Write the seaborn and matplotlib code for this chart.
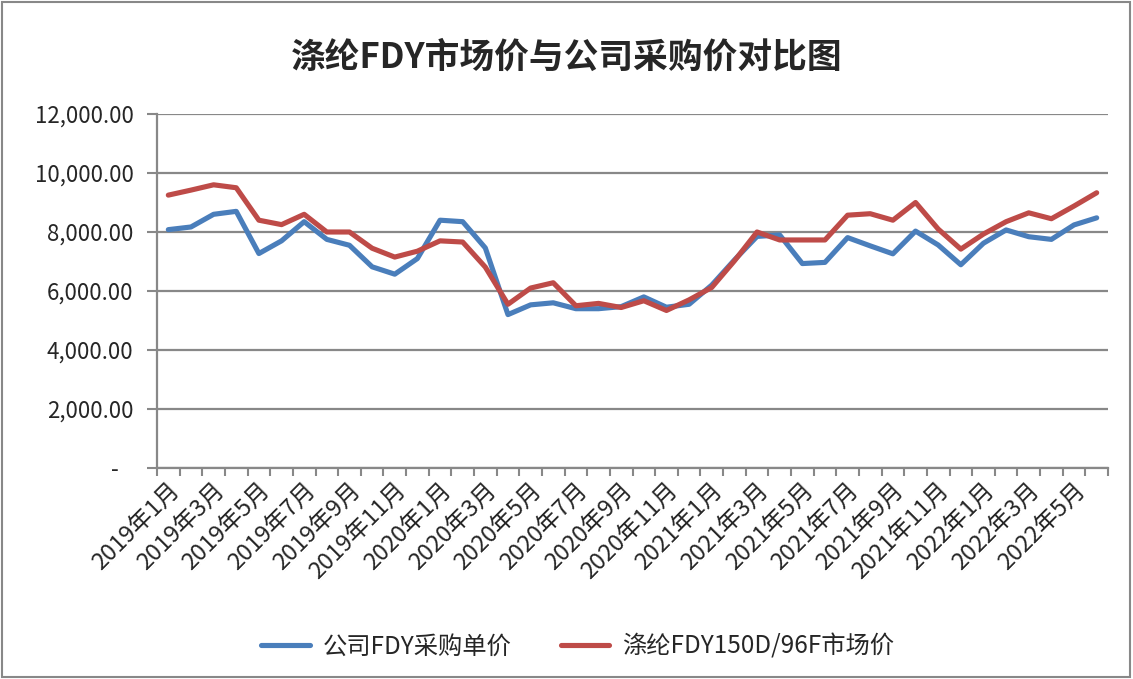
import numpy as np
import pandas as pd
import matplotlib.pyplot as plt
import seaborn as sns
from matplotlib.patches import Rectangle
from matplotlib.ticker import FuncFormatter

months = [
    '2019年1月', '2019年2月', '2019年3月', '2019年4月', '2019年5月', '2019年6月',
    '2019年7月', '2019年8月', '2019年9月', '2019年10月', '2019年11月', '2019年12月',
    '2020年1月', '2020年2月', '2020年3月', '2020年4月', '2020年5月', '2020年6月',
    '2020年7月', '2020年8月', '2020年9月', '2020年10月', '2020年11月', '2020年12月',
    '2021年1月', '2021年2月', '2021年3月', '2021年4月', '2021年5月', '2021年6月',
    '2021年7月', '2021年8月', '2021年9月', '2021年10月', '2021年11月', '2021年12月',
    '2022年1月', '2022年2月', '2022年3月', '2022年4月', '2022年5月', '2022年6月',
]

# 公司FDY采购单价
company_price = [
    8080, 8170, 8600, 8700, 7270, 7700, 8350, 7750, 7550, 6820, 6570, 7100,
    8400, 8350, 7460, 5200, 5530, 5600, 5400, 5400, 5470, 5800, 5450, 5550,
    6200, 7050, 7850, 7900, 6930, 6970, 7810, 7530, 7260, 8030, 7560, 6890,
    7620, 8070, 7840, 7750, 8240, 8480,
]

# 涤纶FDY150D/96F市场价
market_price = [
    9250, 9420, 9600, 9500, 8400, 8250, 8600, 8000, 8000, 7450, 7150, 7350,
    7700, 7660, 6810, 5550, 6100, 6280, 5500, 5580, 5440, 5670, 5340, 5700,
    6120, 7020, 8000, 7730, 7730, 7730, 8570, 8620, 8400, 9000, 8100, 7420,
    7930, 8350, 8650, 8450, 8880, 9330,
]

series_names = ['公司FDY采购单价', '涤纶FDY150D/96F市场价']
colors = ['#4A7EBB', '#BE4B48']

sns.set_style('white')
plt.rcParams['font.family'] = ['Noto Sans CJK SC', 'DejaVu Sans']

df = pd.DataFrame({'月份': months, series_names[0]: company_price, series_names[1]: market_price})
df['pos'] = np.arange(len(months))
long_df = df.melt(id_vars=['月份', 'pos'], var_name='系列', value_name='价格')

fig = plt.figure(figsize=(11.33, 6.79), dpi=100)
ax = fig.add_axes([157 / 1133, 1 - 468 / 679, (1108 - 157) / 1133, (468 - 114) / 679])

sns.lineplot(data=long_df, x='pos', y='价格', hue='系列', hue_order=series_names,
             palette=colors, linewidth=3.7, ax=ax)

grey = '#888888'
ax.set_xlim(-0.5, len(months) - 0.5)
ax.set_ylim(0, 12000)
ax.set_yticks(range(0, 12001, 2000))
ax.yaxis.set_major_formatter(FuncFormatter(lambda v, p: '-   ' if v == 0 else f'{v:,.2f}'))
ax.yaxis.grid(True, color=grey, linewidth=1.6)
ax.set_axisbelow(True)
for side in ['top', 'right']:
    ax.spines[side].set_visible(False)
for side in ['left', 'bottom']:
    ax.spines[side].set_color(grey)
    ax.spines[side].set_linewidth(1.6)

# ticks between categories, labels on every other month
ax.set_xticks(np.arange(-0.5, len(months)), minor=False)
ax.set_xticklabels([])
ax.set_xticks(df['pos'][::2], minor=True)
ax.set_xticklabels(months[::2], minor=True, rotation=45, ha='right',
                   rotation_mode='anchor', fontsize=17)
ax.tick_params(axis='x', which='major', length=6, width=1.5, color=grey, bottom=True)
ax.tick_params(axis='x', which='minor', length=0, pad=8)
ax.tick_params(axis='y', length=7, width=1.5, color=grey, left=True, labelsize=16, pad=10)
ax.set_xlabel('')
ax.set_ylabel('')

handles, labels = ax.get_legend_handles_labels()
ax.get_legend().remove()
fig.legend(handles, labels, loc='center', bbox_to_anchor=(0.51, 1 - 647 / 679), ncol=2,
           frameon=False, fontsize=17.5, handlelength=2.0, handletextpad=0.55, columnspacing=2.0)

fig.text(0.5, 1 - 57 / 679, '涤纶FDY市场价与公司采购价对比图', ha='center', va='center',
         fontsize=25, fontweight='bold')

fig.patches.append(Rectangle((0.002, 0.003), 0.995, 0.994, transform=fig.transFigure,
                             fill=False, edgecolor=grey, linewidth=1.5))

fig.savefig('out.png', dpi=100)
